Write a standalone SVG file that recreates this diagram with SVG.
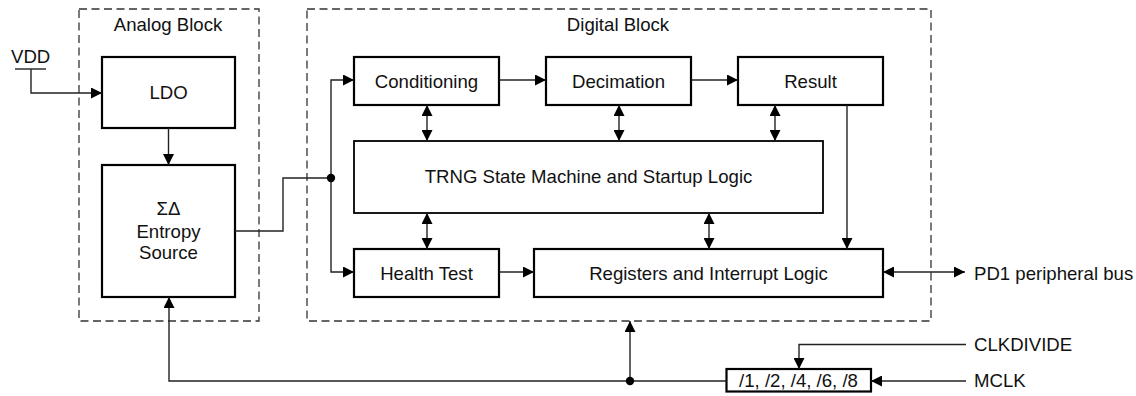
<svg xmlns="http://www.w3.org/2000/svg" width="1136" height="396" viewBox="0 0 1136 396">
<style>
text{font-family:"Liberation Sans",Arial,sans-serif;font-size:18.6px;fill:#111}
.c{text-anchor:middle}
.box{fill:#fff;stroke:#000;stroke-width:2.2}
.box2{fill:#fff;stroke:#000;stroke-width:1.8}
.dash{fill:none;stroke:#333;stroke-width:1.3;stroke-dasharray:8 4.5}
.w{fill:none;stroke:#222;stroke-width:1.4}
.a{marker-end:url(#ah)}
.d{marker-start:url(#ah);marker-end:url(#ah)}
</style>
<defs>
<marker id="ah" viewBox="0 0 10 10" refX="10" refY="5" markerWidth="12" markerHeight="11" markerUnits="userSpaceOnUse" orient="auto-start-reverse">
<path d="M0,0 L10,5 L0,10 z" fill="#000"/>
</marker>
</defs>
<g id="analog-block">
<rect class="dash" x="79" y="9" width="180" height="312"/>
<text class="c" x="168" y="31">Analog Block</text>
</g>
<g id="digital-block">
<rect class="dash" x="307" y="9" width="624" height="312"/>
<text class="c" x="618" y="31">Digital Block</text>
</g>
<g id="vdd">
<text x="11" y="63">VDD</text>
<line class="w" x1="15" y1="69" x2="46" y2="69"/>
</g>
<g id="ldo">
<rect class="box" x="102" y="57" width="133" height="71"/>
<text class="c" x="168.5" y="99">LDO</text>
</g>
<g id="entropy-source">
<rect class="box" x="102" y="165" width="133" height="132"/>
<text class="c" x="168.5" y="215">ΣΔ</text>
<text class="c" x="168.5" y="238">Entropy</text>
<text class="c" x="168.5" y="259">Source</text>
</g>
<g id="conditioning">
<rect class="box" x="354" y="57" width="145" height="48"/>
<text class="c" x="426.5" y="87.5">Conditioning</text>
</g>
<g id="decimation">
<rect class="box" x="546" y="57" width="145" height="48"/>
<text class="c" x="618.5" y="87.5">Decimation</text>
</g>
<g id="result">
<rect class="box" x="738" y="57" width="145" height="48"/>
<text class="c" x="810.5" y="87.5">Result</text>
</g>
<g id="trng">
<rect class="box2" x="354" y="141" width="469" height="72"/>
<text class="c" x="588.5" y="183">TRNG State Machine and Startup Logic</text>
</g>
<g id="health-test">
<rect class="box" x="354" y="249" width="145" height="48"/>
<text class="c" x="426.5" y="279.5">Health Test</text>
</g>
<g id="registers">
<rect class="box" x="534" y="249" width="349" height="48"/>
<text class="c" x="708.5" y="279.5">Registers and Interrupt Logic</text>
</g>
<g id="clkdiv">
<rect class="box" x="726.5" y="369" width="144.5" height="22.5"/>
<text class="c" x="798.5" y="387">/1, /2, /4, /6, /8</text>
</g>
<g id="labels">
<text x="974" y="280">PD1 peripheral bus</text>
<text x="974" y="351">CLKDIVIDE</text>
<text x="974" y="387">MCLK</text>
</g>
<g id="connectors">
<polyline class="w a" points="31,69 31,93 102,93"/>
<line class="w a" x1="168.5" y1="128" x2="168.5" y2="165"/>
<polyline class="w" points="235,231 283,231 283,178 331,178"/>
<polyline class="w a" points="331,178 331,80 354,80"/>
<polyline class="w a" points="331,178 331,272 354,272"/>
<circle cx="331" cy="178" r="4.2" fill="#000"/>
<line class="w a" x1="499" y1="80" x2="546" y2="80"/>
<line class="w a" x1="691" y1="80" x2="738" y2="80"/>
<line class="w a" x1="499" y1="272" x2="534" y2="272"/>
<line class="w d" x1="427" y1="105" x2="427" y2="141"/>
<line class="w d" x1="619" y1="105" x2="619" y2="141"/>
<line class="w d" x1="775" y1="105" x2="775" y2="141"/>
<line class="w d" x1="427" y1="213" x2="427" y2="249"/>
<line class="w d" x1="709" y1="213" x2="709" y2="249"/>
<line class="w a" x1="847" y1="105" x2="847" y2="249"/>
<line class="w d" x1="883" y1="272" x2="965" y2="272"/>
<polyline class="w a" points="966,344.5 799,344.5 799,369"/>
<line class="w a" x1="966" y1="381" x2="871" y2="381"/>
<polyline class="w a" points="726.5,381 169,381 169,297"/>
<line class="w a" x1="630" y1="381" x2="630" y2="321"/>
<circle cx="630" cy="381" r="4.2" fill="#000"/>
</g>
</svg>
